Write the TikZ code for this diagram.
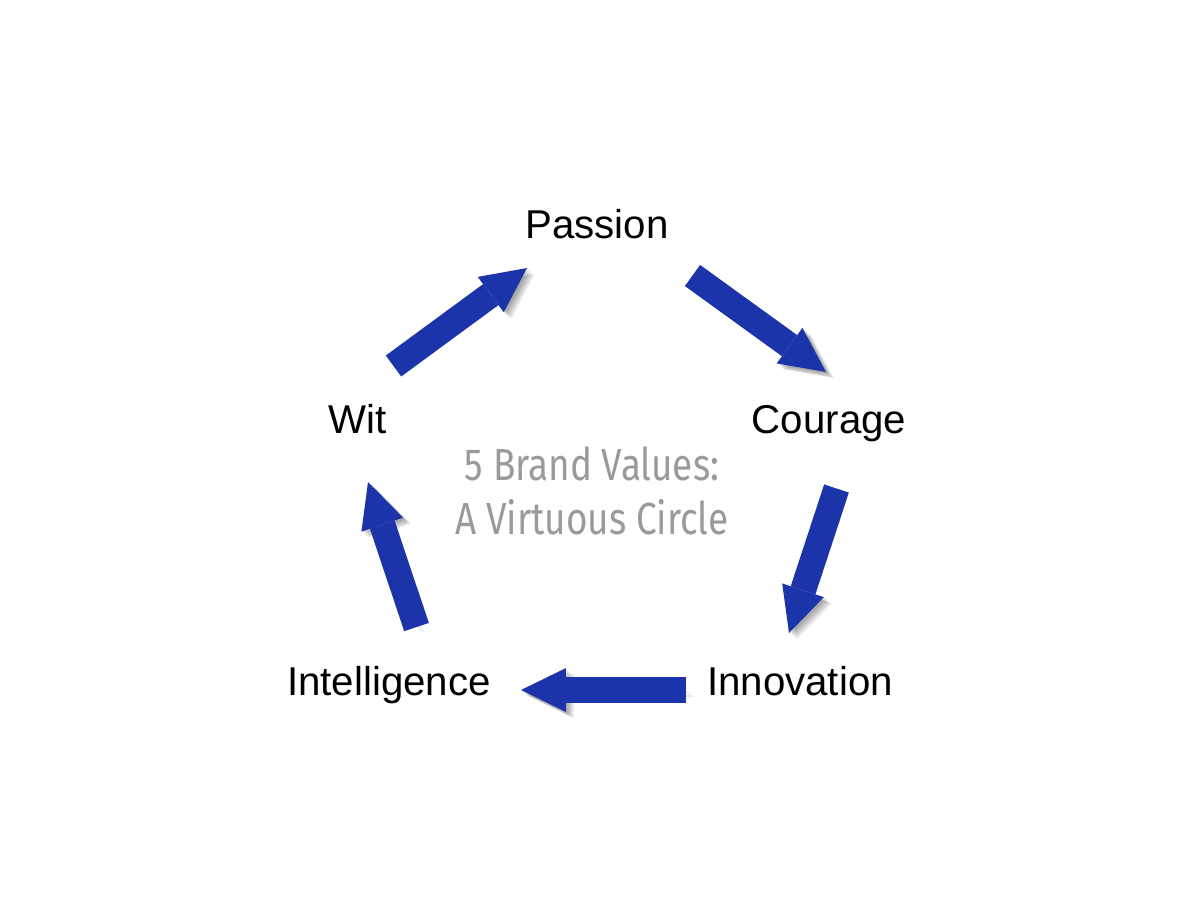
\documentclass[tikz,border=0pt]{standalone}
\usepackage{fontspec}
\setmainfont{Liberation Sans}
\newfontfamily\centrefont[FakeStretch=0.82]{Fira Sans}
\usetikzlibrary{arrows.meta}
\definecolor{arrowblue}{RGB}{27,52,170}
\definecolor{centregray}{RGB}{154,154,154}
\tikzset{
  value/.style={anchor=base, font=\fontsize{22.9}{27}\selectfont, inner sep=0pt},
  shadowpass/.style={preaction={draw=black, opacity=0.08,
      transform canvas={shift={(#1)}}}},
  valuearrow/.style={arrowblue, line width=14.8pt,
    -{Triangle[width=25pt, length=25.6pt, line width=0pt]},
    shadowpass={1pt,-1pt}, shadowpass={2pt,-1.5pt}, shadowpass={2.5pt,-2.5pt},
    shadowpass={3.5pt,-3pt}, shadowpass={4.5pt,-3.5pt}}
}
\begin{document}
\begin{tikzpicture}[x=0.02cm, y=-0.02cm]
    \useasboundingbox[fill=white] (0,0) rectangle (1200,900);
    % labels
    \node[value] (passion) at (597,238) {Passion};
    \node[value] (courage) at (829,433) {Courage};
    \node[value] (innovation) at (800,695) {Innovation};
    \node[value] (intelligence) at (389,695) {Intelligence};
    \node[value] (wit) at (358,433) {Wit};
    \node[centregray, align=center, font=\centrefont\fontsize{25.6}{30.7}\selectfont,
      inner sep=0pt] (title) at (592,491) {5 Brand Values:\\A Virtuous Circle};
    % arrow ends
    \coordinate (wA) at (393.5,366);   \coordinate (pB) at (527,268);
    \coordinate (pA) at (692.5,275.5); \coordinate (cB) at (826,372);
    \coordinate (cA) at (836.5,488.5); \coordinate (nB) at (789,633);
    \coordinate (nA) at (686,690);     \coordinate (iB) at (521,690);
    \coordinate (iA) at (416.5,627);   \coordinate (wB) at (368,482);
    \foreach \a/\b in {wA/pB, pA/cB, cA/nB, nA/iB, iA/wB}
      \draw[valuearrow] (\a) -- (\b);
\end{tikzpicture}
\end{document}
